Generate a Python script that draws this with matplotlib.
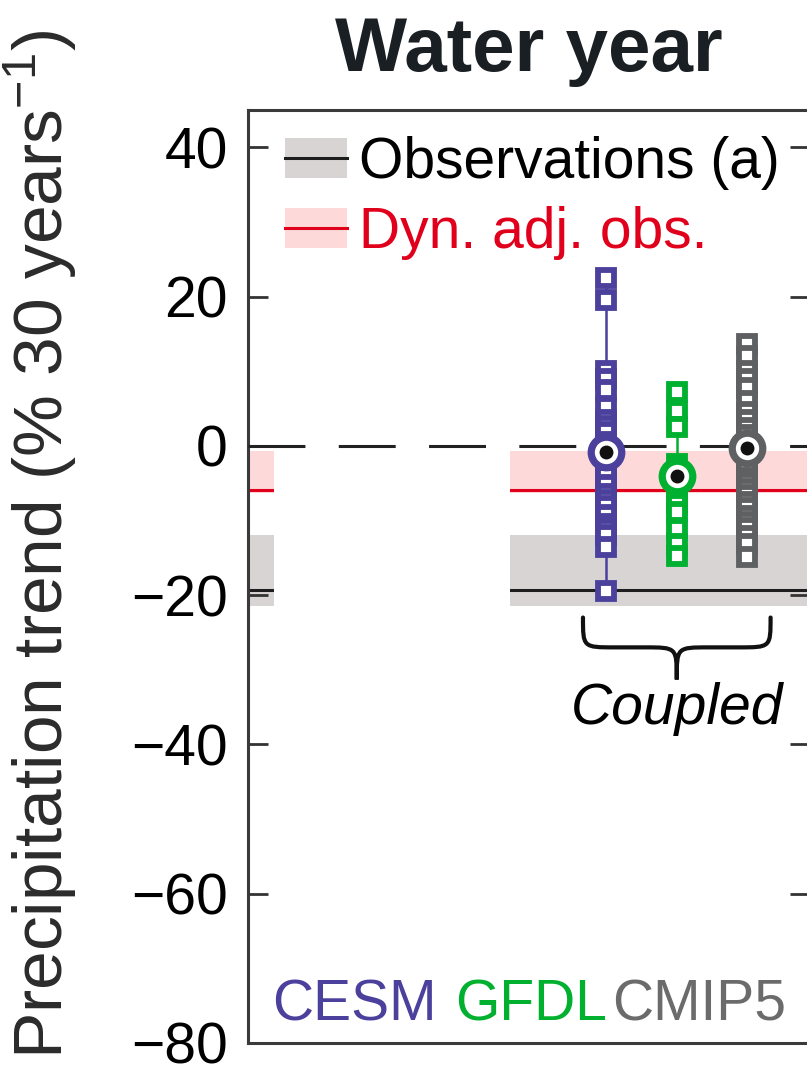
import matplotlib.pyplot as plt
from matplotlib.patches import Patch, Rectangle, PathPatch
from matplotlib.lines import Line2D
from matplotlib.path import Path

plt.rcParams['font.family'] = ['Liberation Sans', 'DejaVu Sans']
plt.rcParams['mathtext.fontset'] = 'custom'
plt.rcParams['mathtext.rm'] = 'Liberation Sans'
plt.rcParams['lines.scale_dashes'] = False

# ensemble members / model trends (% per 30 years)
models = ['CESM', 'GFDL', 'CMIP5']
model_x = [5, 6, 7]
model_colors = ['#4b409c', '#00b030', '#5f6062']
label_colors = ['#4b409c', '#00b02e', '#6b6b6b']
cesm_members = [22.5, 19.5, 10.0, 9.0, 7.5, 5.2, 3.5, 2.6, 1.8, 0.5, -0.5, -1.5,
                -2.8, -4.0, -5.3, -6.5, -7.2, -8.0, -9.3, -10.5, -11.2, -12.0,
                -13.5, -19.5]
gfdl_members = [7.2, 4.7, 2.5, -2.4, -4.5, -6.5, -7.8, -8.9, -11.2, -13.1, -14.7]
cmip5_members = [13.7, 12.0, 10.0, 9.0, 7.8, 6.0, 4.6, 3.5, 2.4, 1.5, 0.5, -0.3,
                 -1.0, -1.8, -2.5, -3.4, -4.3, -5.0, -5.8, -6.6, -7.5, -8.3,
                 -9.4, -10.2, -11.0, -12.1, -13.2, -14.9]
model_means = [-0.8, -4.0, -0.3]

obs_trend = -19.3
obs_range = (-21.4, -11.9)
dyn_adj_trend = -5.9
dyn_adj_range = (-6.3, -0.7)

yticks = [40, 20, 0, -20, -40, -60, -80]

fig = plt.figure(figsize=(8.07, 10.71), dpi=100)
ax = fig.add_axes([0.3073, 0.0262, 0.6965, 0.8711])
ax.set_xlim(-0.08, 7.89)
ax.set_ylim(-80, 45)

# observed and dynamically adjusted trends with their ranges
ax.axhspan(*obs_range, color='#d8d4d3', lw=0, zorder=1)
ax.axhspan(*dyn_adj_range, color='#fdd9d9', lw=0, zorder=1)
ax.axhline(obs_trend, color='#1e1e1e', lw=2.2, zorder=2)
ax.axhline(dyn_adj_trend, color='#e0001b', lw=2.2, zorder=2)
ax.add_patch(Rectangle((0.046, 0.465), 0.42, 0.169, transform=ax.transAxes,
                       facecolor='white', edgecolor='none', zorder=3))
ax.axhline(0, color='#222222', lw=2.2, dashes=(41, 24), zorder=3)

members = [cesm_members, gfdl_members, cmip5_members]
for x, vals, mean, c in zip(model_x, members, model_means, model_colors):
    ax.vlines(x, min(vals), max(vals), color=c, lw=1.8, zorder=4)
    ax.plot([x] * len(vals), vals, ls='none', marker='s', ms=11.5,
            mfc='white', mec=c, mew=4.2, zorder=5)
    ax.plot(x, mean, marker='o', ms=22, mfc='white', mec=c, mew=5.2, zorder=6)
    ax.plot(x, mean, marker='o', ms=9, color='#111111', zorder=7)

# brace under the coupled runs
x0, x1, xc = 4.67, 7.33, 6.0
y_top, y_mid, y_tip = -23.0, -27.0, -31.3
r = 0.45
verts = [(x0, y_top), (x0, y_mid), (x0, y_mid), (x0 + r, y_mid),
         (xc - r, y_mid),
         (xc, y_mid), (xc, y_mid), (xc, y_tip),
         (xc, y_mid), (xc, y_mid), (xc + r, y_mid),
         (x1 - r, y_mid),
         (x1, y_mid), (x1, y_mid), (x1, y_top)]
codes = [Path.MOVETO, Path.CURVE4, Path.CURVE4, Path.CURVE4,
         Path.LINETO,
         Path.CURVE4, Path.CURVE4, Path.CURVE4,
         Path.CURVE4, Path.CURVE4, Path.CURVE4,
         Path.LINETO,
         Path.CURVE4, Path.CURVE4, Path.CURVE4]
ax.add_patch(PathPatch(Path(verts, codes), facecolor='none', edgecolor='#111111',
                       lw=3.0, capstyle='round', zorder=4))
ax.text(xc, -37.3, 'Coupled', style='italic', fontsize=41, ha='center',
        va='baseline')

# model names along the bottom
for name, c, xa in zip(models, label_colors, [0.043, 0.368, 0.648]):
    ax.text(xa, 0.0236, name, color=c, fontsize=41, ha='left', va='baseline',
            transform=ax.transAxes)

handles = [(Patch(facecolor='#d8d4d3', lw=0), Line2D([], [], color='#1e1e1e', lw=2.2)),
           (Patch(facecolor='#fdd9d9', lw=0), Line2D([], [], color='#e0001b', lw=2.2))]
ax.legend(handles, ['Observations (a)', 'Dyn. adj. obs.'], loc='upper left',
          bbox_to_anchor=(0.066, 0.972), frameon=False, fontsize=41,
          handlelength=1.09, handleheight=0.7, handletextpad=0.21,
          borderpad=0, borderaxespad=0, labelspacing=0.28,
          labelcolor=['black', '#e0001b'])

ax.set_yticks(yticks)
ax.set_xticks([])
ax.tick_params(axis='y', direction='in', length=14.4, width=2, pad=14.4,
               labelsize=41, right=True, colors='#333333', labelcolor='black')
for s in ax.spines.values():
    s.set_linewidth(2.2)
    s.set_color('#3a3a3a')

ax.set_title('Water year', fontsize=55, fontweight='bold', color='#1a1f24', pad=28)
ax.set_ylabel('Precipitation trend (% 30 years$^{-1}$)', fontsize=50,
              color='#2b2b2b')
ax.yaxis.set_label_coords(-0.30, 0.534)

fig.savefig('out.png', dpi=100)
